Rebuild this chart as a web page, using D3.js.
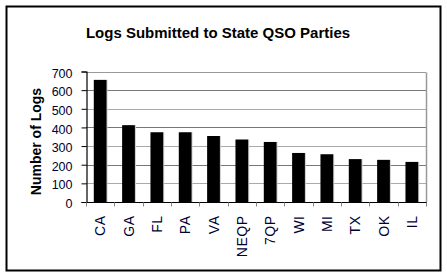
<!DOCTYPE html>
<html><head><meta charset="utf-8">
<script src="https://cdn.jsdelivr.net/npm/d3@7"></script>
<style>body{margin:0;background:#fff}svg{display:block}</style>
</head><body>
<script>
const categories = ["CA","GA","FL","PA","VA","NEQP","7QP","WI","MI","TX","OK","IL"];
const logs = [655,412,374,374,354,335,322,263,256,230,226,215];
const yTicks = [0,100,200,300,400,500,600,700];
const title = "Logs Submitted to State QSO Parties";
const yTitle = "Number of Logs";

const W = 447, H = 276;
const m = {left:86, right:426, top:71.5, bottom:202};
const svg = d3.select("body").append("svg").attr("width",W).attr("height",H);
const font = "Liberation Sans, Arial, sans-serif";

svg.append("rect").attr("x",6.5).attr("y",6.5).attr("width",434).attr("height",264)
  .attr("fill","#fff").attr("stroke","#000").attr("stroke-width",2);

const x = d3.scaleBand().domain(categories).range([m.left,m.right]).paddingInner(0.55).paddingOuter(0.275);
const y = d3.scaleLinear().domain([0,700]).range([m.bottom,m.top]);

// gridlines
svg.append("g").selectAll("line").data(yTicks.filter(d=>d>0)).join("line")
  .attr("x1",m.left).attr("x2",m.right)
  .attr("y1",d=>Math.round(y(d))+0.5).attr("y2",d=>Math.round(y(d))+0.5)
  .attr("stroke",d=>d===700?"#999":(d%200===0?"#777":"#aaa")).attr("stroke-width",1);
// right border of plot
svg.append("line").attr("x1",m.right+0.5).attr("x2",m.right+0.5)
  .attr("y1",Math.round(y(700))+0.5).attr("y2",m.bottom).attr("stroke","#999").attr("stroke-width",1.5);

// bars with light shadow
svg.append("g").selectAll("rect").data(categories).join("rect")
  .attr("x",d=>x(d)+1).attr("width",x.bandwidth())
  .attr("y",(d,i)=>y(logs[i])).attr("height",(d,i)=>m.bottom-y(logs[i]))
  .attr("fill","#ccc");
svg.append("g").selectAll("rect").data(categories).join("rect")
  .attr("x",d=>x(d)).attr("width",x.bandwidth())
  .attr("y",(d,i)=>y(logs[i])).attr("height",(d,i)=>m.bottom-y(logs[i]))
  .attr("fill","#000");

// y axis
const ya = svg.append("g").attr("transform",`translate(${m.left+0.5},0)`)
  .call(d3.axisLeft(y).tickValues(yTicks).tickSize(5).tickPadding(9).tickFormat(d3.format("d")));
ya.select(".domain").attr("stroke","#000").attr("stroke-width",1.2);
ya.selectAll(".tick line").attr("stroke","#000");
ya.selectAll("text").attr("font-family",font).attr("font-size",12.5).attr("fill","#000033").attr("dy","0.45em");

// x axis
const step = x.step();
const xa = svg.append("g").attr("transform",`translate(0,${m.bottom+0.5})`);
xa.append("line").attr("x1",m.left).attr("x2",m.right+1).attr("stroke","#000").attr("stroke-width",1.2);
xa.selectAll("line.tk").data(d3.range(categories.length+1)).join("line").attr("class","tk")
  .attr("x1",i=>Math.round(m.left+i*step)+0.5).attr("x2",i=>Math.round(m.left+i*step)+0.5)
  .attr("y1",0).attr("y2",4).attr("stroke","#888");
xa.selectAll("text").data(categories).join("text")
  .attr("transform",d=>`translate(${x(d)+x.bandwidth()/2+5},13) rotate(-90)`)
  .attr("text-anchor","end").attr("font-family",font).attr("font-size",14).attr("fill","#000033")
  .attr("letter-spacing","0.5px")
  .text(d=>d);

// titles
svg.append("text").attr("x",218).attr("y",38).attr("text-anchor","middle")
  .attr("font-family",font).attr("font-weight","bold").attr("font-size",15).text(title);
svg.append("text").attr("transform",`translate(41,141.5) rotate(-90)`)
  .attr("text-anchor","middle").attr("font-family",font).attr("font-weight","bold").attr("font-size",14).text(yTitle);
</script>
</body></html>
